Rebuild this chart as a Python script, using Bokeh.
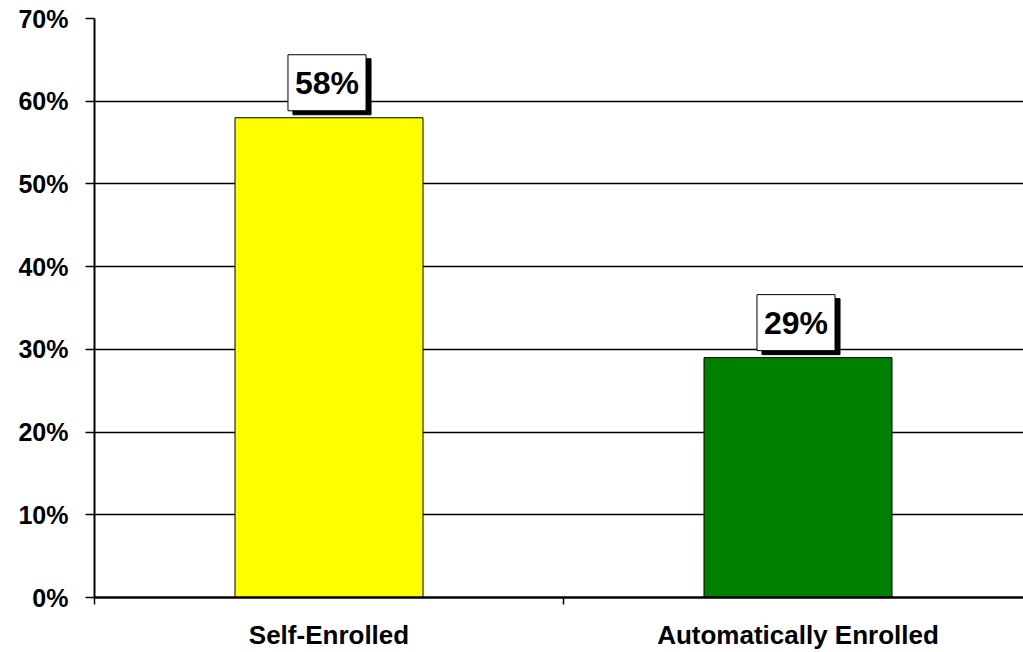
from bokeh.plotting import figure
from bokeh.models import (FixedTicker, NumeralTickFormatter, LinearAxis, Label, Range1d)
from bokeh.embed import file_html
from bokeh.resources import INLINE

categories = ["Self-Enrolled", "Automatically Enrolled"]
values = [0.58, 0.29]
bar_colors = ["#FFFF00", "#008000"]
value_labels = ["58%", "29%"]
y_ticks = [0.0, 0.1, 0.2, 0.3, 0.4, 0.5, 0.6, 0.7]

FONT = "Liberation Sans"

centers = [i + 0.5 for i in range(len(categories))]
bounds = list(range(len(categories) + 1))

p = figure(width=1023, height=652, output_backend="svg", toolbar_location=None,
           x_range=Range1d(0, 929 / 469), y_range=Range1d(0, 0.7),
           x_axis_type=None, min_border_left=94, min_border_top=18,
           min_border_right=0, min_border_bottom=54)
p.outline_line_color = None
p.background_fill_color = "white"
p.border_fill_color = "white"

# y axis
ya = p.yaxis[0]
ya.ticker = FixedTicker(ticks=y_ticks)
ya.formatter = NumeralTickFormatter(format="0%")
ya.axis_line_width = 2
ya.axis_line_color = "black"
ya.major_tick_out = 9
ya.major_tick_in = 0
ya.major_tick_line_width = 1.5
ya.minor_tick_line_color = None
ya.major_label_text_font = FONT
ya.major_label_text_font_style = "bold"
ya.major_label_text_font_size = "25px"
ya.major_label_text_color = "black"
ya.major_label_standoff = 17

p.ygrid.ticker = FixedTicker(ticks=y_ticks)
p.ygrid.grid_line_color = "black"
p.ygrid.grid_line_width = 1.5

# x axis: tick marks at boundaries
xa = LinearAxis(ticker=FixedTicker(ticks=bounds))
xa.major_label_overrides = {b: "" for b in bounds}
xa.major_label_text_font_size = "1px"
xa.major_label_standoff = 0
xa.axis_line_width = 2.5
xa.major_tick_out = 7
xa.major_tick_in = 0
xa.major_tick_line_width = 1.5
xa.minor_tick_line_color = None
p.add_layout(xa, "below")

# x axis: category labels
xl = LinearAxis(ticker=FixedTicker(ticks=centers))
xl.major_label_overrides = {c: n for c, n in zip(centers, categories)}
xl.axis_line_color = None
xl.major_tick_line_color = None
xl.minor_tick_line_color = None
xl.major_label_text_font = FONT
xl.major_label_text_font_style = "bold"
xl.major_label_text_font_size = "26px"
xl.major_label_text_color = "black"
xl.major_label_standoff = 9
p.add_layout(xl, "below")

p.vbar(x=centers, top=values, width=188 / 469, bottom=0,
       fill_color=bar_colors, line_color="black", line_width=1)

for c, v, t in zip(centers, values, value_labels):
    shadow = Label(x=c, y=v, text=t, x_offset=3, y_offset=3,
                   text_align="center", text_baseline="bottom",
                   text_font=FONT, text_font_style="bold", text_font_size="32px",
                   text_color="black", background_fill_color="black",
                   border_line_color="black", padding=(7, 10))
    box = Label(x=c, y=v, text=t, x_offset=-2, y_offset=7,
                text_align="center", text_baseline="bottom",
                text_font=FONT, text_font_style="bold", text_font_size="32px",
                text_color="black", background_fill_color="white",
                border_line_color="black", border_line_width=1, padding=(7, 10))
    p.add_layout(shadow)
    p.add_layout(box)

open("out.html", "w").write(file_html(p, INLINE))
